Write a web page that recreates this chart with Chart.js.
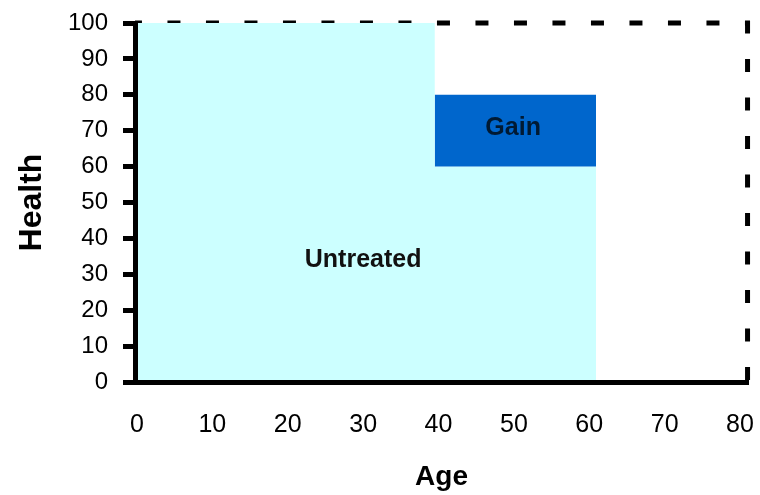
<!DOCTYPE html>
<html>
<head>
<meta charset="utf-8">
<script src="https://cdn.jsdelivr.net/npm/chart.js@4/dist/chart.umd.min.js"></script>
<style>
html,body{margin:0;padding:0;background:#fff;}
canvas{display:block;}
</style>
</head>
<body>
<canvas id="c" width="760" height="495"></canvas>
<script>
// ---- data ----
const ageTicks = [0, 10, 20, 30, 40, 50, 60, 70, 80];
const healthTicks = [0, 10, 20, 30, 40, 50, 60, 70, 80, 90, 100];

// Untreated health profile (area)
const untreatedAge    = [-0.27, 39.5, 39.5, 60.9, 60.9];
const untreatedHealth = [100, 100, 60, 60, 0];

// Gain block (from 60 up to 80)
const gainAge    = [39.5, 60.9];
const gainTop    = [80, 80];
const gainBottom = 60;

// Dashed ideal boundary
const idealAge    = [-0.27, 81, 81];
const idealHealth = [100, 100, 0];

const FONT = "'Liberation Sans', Arial, sans-serif";

const pts = (xs, ys) => xs.map((x, i) => ({ x: x, y: ys[i] }));

const areaLabels = {
  id: 'areaLabels',
  afterDatasetsDraw(chart, args, opts) {
    const { ctx, scales } = chart;
    ctx.save();
    ctx.textAlign = 'center';
    ctx.textBaseline = 'middle';
    opts.items.forEach(it => {
      ctx.font = 'bold ' + it.size + 'px ' + FONT;
      ctx.fillStyle = it.color;
      ctx.fillText(it.text, scales.x.getPixelForValue(it.x), scales.y.getPixelForValue(it.y));
    });
    ctx.restore();
  }
};

new Chart(document.getElementById('c'), {
  type: 'line',
  data: {
    datasets: [
      {
        label: 'Gain',
        data: pts(gainAge, gainTop),
        borderWidth: 0,
        pointRadius: 0,
        backgroundColor: '#0066CC',
        borderColor: 'rgba(0,0,0,0)',
        fill: { value: gainBottom },
        order: 0
      },
      {
        label: 'Untreated',
        data: pts(untreatedAge, untreatedHealth),
        borderWidth: 0,
        pointRadius: 0,
        backgroundColor: '#CCFFFF',
        borderColor: 'rgba(0,0,0,0)',
        fill: 'origin',
        order: 1
      },
      {
        label: 'Ideal',
        data: pts(idealAge, idealHealth),
        borderWidth: 5,
        borderColor: '#000',
        borderDash: [13, 25.5],
        borderDashOffset: 6,
        borderCapStyle: 'butt',
        pointRadius: 0,
        fill: false,
        clip: 8,
        order: 2
      }
    ]
  },
  options: {
    responsive: false,
    animation: false,
    devicePixelRatio: 1,
    layout: { padding: { left: 0, right: 12, top: 23, bottom: 0 } },
    plugins: {
      legend: { display: false },
      tooltip: { enabled: false },
      areaLabels: {
        items: [
          { text: 'Untreated', x: 30, y: 34, size: 25, color: '#111' },
          { text: 'Gain', x: 49.9, y: 70.8, size: 25, color: '#001a33' }
        ]
      }
    },
    scales: {
      x: {
        type: 'linear',
        min: -0.265,
        max: 81.06,
        afterBuildTicks: s => { s.ticks = ageTicks.map(v => ({ value: v })); },
        afterFit: s => { s.height = 113; s.paddingLeft = 0; s.paddingRight = 0; },
        grid: { display: true, drawOnChartArea: false, drawTicks: false, z: 1 },
        border: { display: true, width: 5, color: '#000', z: 1 },
        ticks: { padding: 28, color: '#000', font: { family: FONT, size: 25 }, maxRotation: 0, z: 1 },
        title: {
          display: true, text: 'Age', color: '#000',
          font: { family: FONT, size: 28, weight: 'bold' },
          padding: { top: 0, bottom: 1 }
        }
      },
      y: {
        type: 'linear',
        min: 0,
        max: 100,
        afterBuildTicks: s => { s.ticks = healthTicks.map(v => ({ value: v })); },
        afterFit: s => { s.width = 135; s.paddingTop = 0; s.paddingBottom = 0; },
        grid: { display: true, drawOnChartArea: false, drawTicks: true, tickLength: 12, tickWidth: 5, tickColor: '#000', z: 1 },
        border: { display: true, width: 5, color: '#000', z: 1 },
        ticks: { padding: 15, color: '#000', font: { family: FONT, size: 24 }, z: 1 },
        title: {
          display: true, text: 'Health', color: '#000',
          font: { family: FONT, size: 32, weight: 'bold' },
          padding: { top: 13, bottom: 0 }
        }
      }
    }
  },
  plugins: [areaLabels]
});
</script>
</body>
</html>
